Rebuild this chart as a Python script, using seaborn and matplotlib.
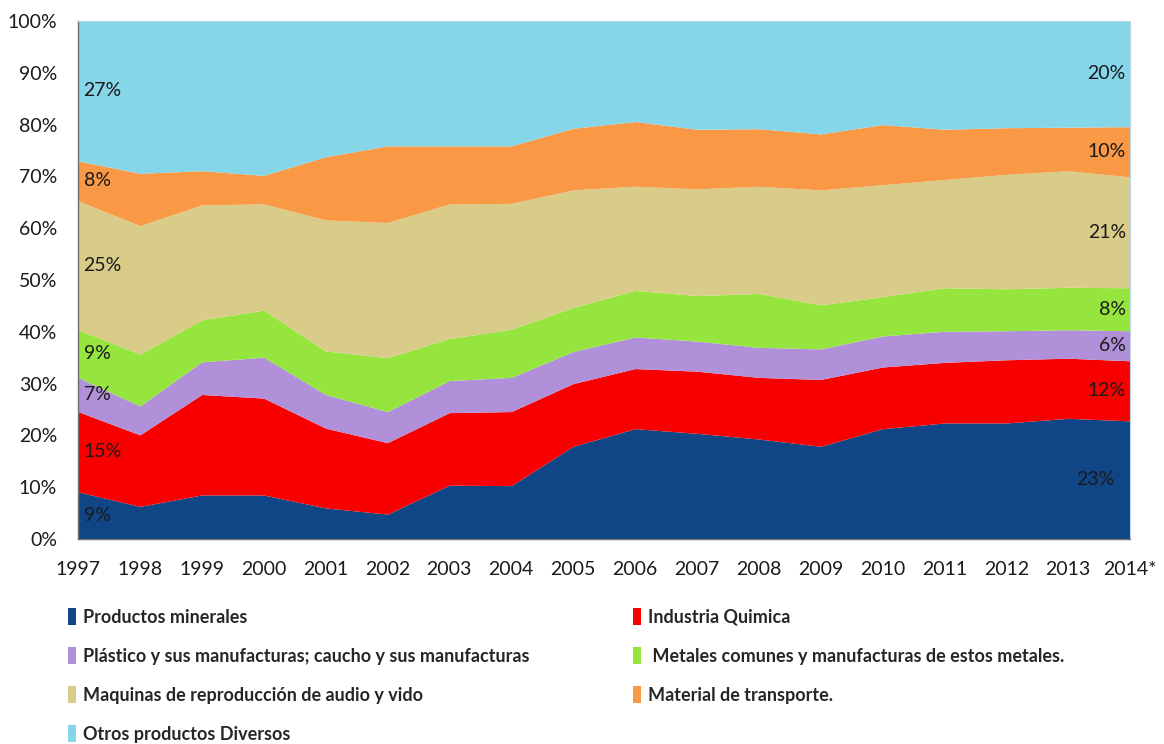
import matplotlib
matplotlib.use("Agg")
import matplotlib.pyplot as plt
from matplotlib.patches import Patch
import seaborn as sns
import numpy as np

years = list(range(1997, 2015))
year_labels = [str(y) for y in years[:-1]] + ["2014*"]

series_names = [
    "Productos minerales",
    "Industria Quimica",
    "Plástico y sus manufacturas; caucho y sus manufacturas",
    " Metales comunes y manufacturas de estos metales.",
    "Maquinas de reproducción de audio y vido",
    "Material de transporte.",
    "Otros productos Diversos",
]

minerales = [9.1, 6.3, 8.5, 8.5, 6.0, 4.8, 10.4, 10.3, 17.9, 21.3, 20.4, 19.3, 17.9, 21.3, 22.4, 22.4, 23.3, 22.8]
quimica = [15.5, 13.8, 19.4, 18.7, 15.4, 13.8, 14.0, 14.3, 12.1, 11.6, 12.0, 11.9, 12.9, 11.9, 11.7, 12.2, 11.6, 11.6]
plastico = [6.6, 5.6, 6.3, 7.9, 6.5, 6.0, 6.2, 6.6, 6.2, 6.1, 5.8, 5.8, 5.9, 6.0, 6.0, 5.6, 5.5, 5.8]
metales = [9.2, 10.0, 8.1, 9.1, 8.4, 10.4, 8.1, 9.3, 8.5, 9.0, 8.8, 10.4, 8.5, 7.6, 8.4, 8.1, 8.2, 8.3]
maquinas = [24.9, 24.8, 22.2, 20.5, 25.3, 26.1, 26.0, 24.3, 22.7, 20.1, 20.6, 20.7, 22.2, 21.6, 20.9, 22.1, 22.5, 21.4]
transporte = [7.7, 10.1, 6.6, 5.5, 12.2, 14.8, 11.2, 11.1, 11.9, 12.5, 11.5, 11.1, 10.8, 11.6, 9.7, 9.0, 8.4, 9.7]
otros = [27.0, 29.4, 28.9, 29.8, 26.2, 24.1, 24.1, 24.1, 20.7, 19.4, 20.9, 20.8, 21.8, 20.0, 20.9, 20.6, 20.5, 20.4]

labels_1997 = ["9%", "15%", "7%", "9%", "25%", "8%", "27%"]
labels_2014 = ["23%", "12%", "6%", "8%", "21%", "10%", "20%"]

colors = ["#104586", "#F80000", "#B190DA", "#96E53F", "#D8CC88", "#F99845", "#86D6EA"]

sns.set_theme(style="white")
plt.rcParams["font.family"] = ["Lato", "DejaVu Sans"]

fig = plt.figure(figsize=(11.64, 7.44), dpi=100)
ax = fig.add_axes([78 / 1164, 1 - 539 / 744, (1130 - 78) / 1164, (539 - 21) / 744])

data = np.array([minerales, quimica, plastico, metales, maquinas, transporte, otros])
data = data / data.sum(axis=0) * 100
ax.stackplot(years, data, colors=colors, linewidth=0)

ax.set_xlim(1997, 2014)
ax.set_ylim(0, 100)
ax.set_yticks(np.arange(0, 101, 10))
ax.set_yticklabels([f"{v}%" for v in range(0, 101, 10)], fontsize=14, color="#1a1a1a")
ax.set_xticks(years)
ax.set_xticklabels(year_labels, fontsize=14, color="#1a1a1a")
ax.tick_params(axis="y", length=0, pad=15)
ax.tick_params(axis="x", length=0, pad=16)
for side in ["left", "bottom"]:
    ax.spines[side].set_color("#6f6f6f")
    ax.spines[side].set_linewidth(1.0)
for side in ["top", "right"]:
    ax.spines[side].set_color("#bcd6e6")
    ax.spines[side].set_linewidth(0.8)

cum = np.cumsum(data, axis=0)
mids = cum - data / 2
for i in range(len(series_names)):
    ax.annotate(labels_1997[i], (years[0], mids[i, 0]), xytext=(4, 0), textcoords="offset points",
                ha="left", va="center", fontsize=14, color="#1a1a1a")
    ax.annotate(labels_2014[i], (years[-1], mids[i, -1]), xytext=(-3 if i != 0 else -11, 0),
                textcoords="offset points", ha="right", va="center", fontsize=14, color="#1a1a1a")

handles = [Patch(facecolor=c, edgecolor="none") for c in colors]
leg_font = {"family": ["Lato", "DejaVu Sans"], "weight": "bold", "size": 13}
col1 = [0, 2, 4, 6]
col2 = [1, 3, 5]
for idxs, x0 in [(col1, 68 / 1164), (col2, 633 / 1164)]:
    fig.legend([handles[i] for i in idxs], [series_names[i] for i in idxs],
               loc="upper left", bbox_to_anchor=(x0, 1 - 608 / 744), frameon=False,
               prop=leg_font, handlelength=0.45, handleheight=1.1, handletextpad=0.4,
               labelspacing=1.17, borderaxespad=0, borderpad=0)

fig.savefig("out.png", dpi=100)
